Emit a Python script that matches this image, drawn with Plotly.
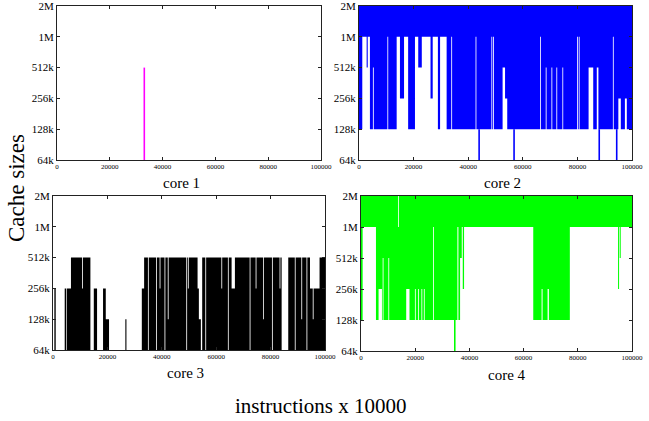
import plotly.graph_objects as go
import math

# ---------------- data (cache sizes in KB, x in instructions/10000) ----------------
x_ticks = [0, 20000, 40000, 60000, 80000, 100000]
y_tickvals = [64, 128, 256, 512, 1024, 2048]
y_ticktext = ["64k", "128k", "256k", "512k", "1M", "2M"]

# core 1: a single excursion
core1_spike_x = [33070]
core1_spike_lo = [64]
core1_spike_hi = [512]

# core 2: envelope of the rapidly switching size (interval edges, min, max)
core2_x = [0, 1200, 2800, 3200, 4000, 5100, 5400, 10400, 10700, 13800, 15000, 16500,
           18000, 20500, 21700, 23000, 26200, 27000, 28900, 29700, 32100, 33800, 34100,
           42700, 43000, 48500, 48800, 49100, 49400, 52600, 53500, 54300, 66300, 66600,
           68400, 68700, 70500, 70800, 72300, 72600, 74500, 74800, 79900, 80200, 80500,
           80800, 84100, 85800, 87100, 87700, 93000, 93300, 95000, 95900, 97400, 98100,
           100000]
core2_lo = [128, 1024, 512, 1024, 128, 512, 128, 1024, 128, 1024, 256, 1024,
            128, 1024, 512, 1024, 256, 1024, 128, 1024, 128, 1024, 128,
            1024, 128, 1024, 128, 1024, 128, 512, 256, 128, 1024, 128,
            512, 128, 512, 128, 512, 128, 512, 128, 1024, 128, 1024,
            128, 512, 128, 512, 128, 1024, 128, 256, 128, 256, 128]
core2_hi = 2048
core2_spike_x = [44000, 56800, 88000, 94400]
core2_spike_lo = [64, 64, 64, 64]
core2_spike_hi = [128, 128, 128, 128]

# core 3: base stays at 64k, top varies
core3_x = [0, 500, 1000, 4300, 4900, 5150, 6600, 10700, 11000, 13750, 15000, 16200,
           18400, 19400, 20600, 26600, 27000, 32650, 33500, 34900, 35200, 37900, 38200,
           39200, 39500, 41000, 41300, 42200, 42500, 49000, 49300, 49600, 49900, 53150,
           53630, 54360, 54850, 56000, 56300, 61900, 62200, 64300, 64600, 65660, 66880,
           72300, 72600, 74500, 74800, 77200, 77500, 80500, 80800, 83300, 83600, 84060,
           86490, 88900, 89200, 91300, 91600, 93200, 93500, 94480, 95500, 95800, 98000,
           100000]
core3_lo = 64
core3_hi = [64, 256, 64, 256, 64, 256, 512, 256, 512, 64, 256, 64,
            256, 128, 64, 128, 64, 256, 512, 64, 512, 64, 512,
            256, 512, 64, 512, 128, 512, 64, 512, 256, 512, 256,
            128, 64, 512, 64, 512, 256, 512, 64, 512, 256, 512,
            64, 512, 256, 512, 128, 512, 64, 512, 256, 512, 64,
            512, 64, 512, 128, 512, 64, 512, 256, 128, 256, 512]

# core 4: top stays at 2M, bottom varies
core4_x = [0, 600, 5520, 6480, 7730, 8000, 8300, 10100, 10400, 13700, 14000, 16680,
           17900, 19900, 20200, 21100, 21400, 22300, 22600, 23200, 23500, 26600, 26900,
           35570, 35940, 36560, 37180, 37550, 38030, 63560, 66640, 67000, 68850, 69330,
           77060, 94860, 95230, 95470, 95840, 100000]
core4_lo = [128, 1024, 128, 256, 128, 512, 128, 512, 128, 128, 128, 256,
            128, 256, 128, 256, 128, 256, 128, 256, 128, 1024, 128,
            1024, 128, 512, 1024, 256, 1024, 128, 256, 128, 256, 128,
            1024, 256, 1024, 512, 1024]
core4_hi = [2048, 2048, 2048, 2048, 2048, 2048, 2048, 2048, 2048, 1024, 2048, 2048,
            2048, 2048, 2048, 2048, 2048, 2048, 2048, 2048, 2048, 2048, 2048,
            2048, 2048, 2048, 2048, 2048, 2048, 2048, 2048, 2048, 2048, 2048,
            2048, 2048, 2048, 2048, 2048]
core4_spike_x = [34600]
core4_spike_lo = [64]
core4_spike_hi = [128]

colors = {"core1": "#FF00FF", "core2": "#0000FF", "core3": "#000000", "core4": "#00FF00"}

# ---------------- helpers ----------------
def band_polygon(edges, lo, hi):
    n = len(edges) - 1
    lo = lo if isinstance(lo, list) else [lo] * n
    hi = hi if isinstance(hi, list) else [hi] * n
    assert len(lo) == n and len(hi) == n
    px, py = [], []
    for i in range(n):
        px += [edges[i], edges[i + 1]]
        py += [hi[i], hi[i]]
    for i in reversed(range(n)):
        px += [edges[i + 1], edges[i]]
        py += [lo[i], lo[i]]
    return px, py


def spikes(xs, lo, hi):
    px, py = [], []
    for x, a, b in zip(xs, lo, hi):
        px += [x, x, None]
        py += [a, b, None]
    return px, py


fig = go.Figure()
serif = "Liberation Serif, Times New Roman, serif"

domains = {
    1: ([57 / 649, 321 / 649], [1 - 160 / 421, 1 - 6 / 421]),
    2: ([359 / 649, 632 / 649], [1 - 160 / 421, 1 - 6 / 421]),
    3: ([53 / 649, 325 / 649], [1 - 350 / 421, 1 - 196 / 421]),
    4: ([361 / 649, 632 / 649], [1 - 351 / 421, 1 - 196 / 421]),
}

def axes_names(k):
    return ("x" if k == 1 else f"x{k}", "y" if k == 1 else f"y{k}")

def add_band(k, edges, lo, hi, color):
    xa, ya = axes_names(k)
    px, py = band_polygon(edges, lo, hi)
    fig.add_trace(go.Scatter(x=px, y=py, xaxis=xa, yaxis=ya, mode="lines",
                             fill="toself", fillcolor=color, line=dict(width=0, color=color),
                             hoverinfo="skip", showlegend=False))

def add_spikes(k, xs, lo, hi, color, w=1.5):
    xa, ya = axes_names(k)
    px, py = spikes(xs, lo, hi)
    fig.add_trace(go.Scatter(x=px, y=py, xaxis=xa, yaxis=ya, mode="lines",
                             line=dict(width=w, color=color), hoverinfo="skip",
                             showlegend=False))

add_spikes(1, core1_spike_x, core1_spike_lo, core1_spike_hi, colors["core1"], 1.6)
add_band(2, core2_x, core2_lo, core2_hi, colors["core2"])
add_spikes(2, core2_spike_x, core2_spike_lo, core2_spike_hi, colors["core2"], 1.6)
add_band(3, core3_x, core3_lo, core3_hi, colors["core3"])
add_band(4, core4_x, core4_lo, core4_hi, colors["core4"])
add_spikes(4, core4_spike_x, core4_spike_lo, core4_spike_hi, colors["core4"], 1.6)

layout = dict(width=649, height=421, autosize=False,
              margin=dict(l=0, r=0, t=0, b=0, autoexpand=False),
              paper_bgcolor="white", plot_bgcolor="white", showlegend=False)
for k in range(1, 5):
    xd, yd = domains[k]
    xa, ya = axes_names(k)
    xkey = "xaxis" if k == 1 else f"xaxis{k}"
    ykey = "yaxis" if k == 1 else f"yaxis{k}"
    layout[xkey] = dict(domain=xd, anchor=ya, range=[0, 100000], tickvals=x_ticks,
                        ticktext=[str(v) for v in x_ticks], ticks="inside", ticklen=3,
                        tickcolor="#222", showline=True, linecolor="#222", linewidth=1,
                        mirror="ticks", showgrid=False, zeroline=False, automargin=False,
                        ticklabeloverflow="allow",
                        tickfont=dict(family=serif, size=7, color="black"))
    layout[ykey] = dict(domain=yd, anchor=xa, type="log",
                        range=[math.log10(64), math.log10(2048)],
                        tickvals=y_tickvals, ticktext=y_ticktext, ticks="inside", ticklen=3,
                        tickcolor="#222", showline=True, linecolor="#222", linewidth=1,
                        mirror="ticks", showgrid=False, zeroline=False, automargin=False,
                        ticklabeloverflow="allow",
                        tickfont=dict(family=serif, size=11, color="black"))
fig.update_layout(**layout)

def ann(text, xpx, ypx, size, angle=0):
    fig.add_annotation(text=text, x=xpx / 649, y=1 - ypx / 421, xref="paper", yref="paper",
                       showarrow=False, textangle=angle, xanchor="center", yanchor="middle",
                       font=dict(family=serif, size=size, color="black"))

ann("core 1", 181, 183, 15)
ann("core 2", 502, 183, 15)
ann("core 3", 186, 373, 15)
ann("core 4", 507, 375, 15)
ann("instructions x 10000", 321, 406, 21)
ann("Cache sizes", 17, 188, 23, -90)

fig.write_html("out.html", config={"displayModeBar": False},
               post_script="document.body.style.margin='0';document.body.style.overflow='hidden';")
